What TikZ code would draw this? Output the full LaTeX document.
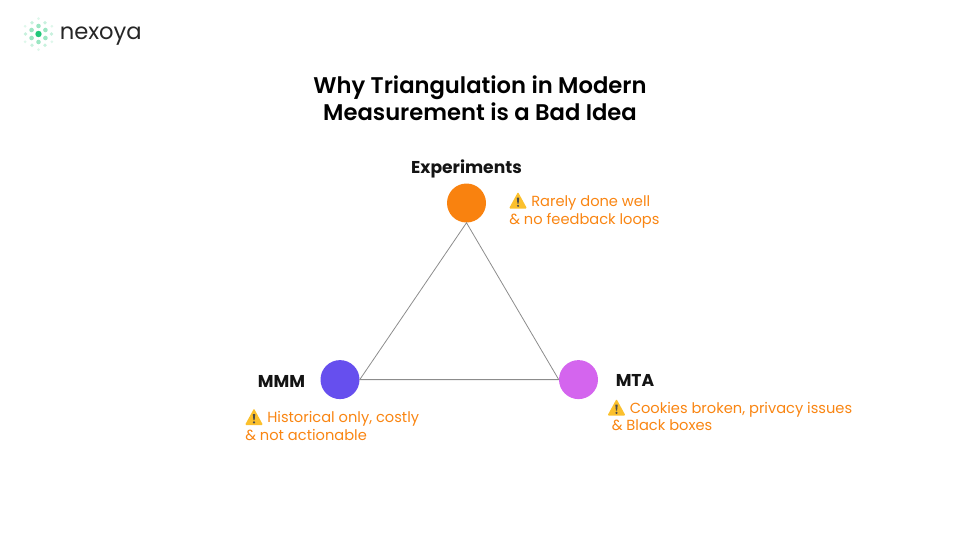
\documentclass[tikz,border=0pt]{standalone}
\usepackage{fontspec}
\setmainfont{Poppins}[BoldFont={Poppins SemiBold}]
\newfontfamily\labelfont{Poppins Bold}
\definecolor{noteorange}{HTML}{F98512}
\definecolor{expcolor}{HTML}{F9820F}
\definecolor{mmmcolor}{HTML}{664FEE}
\definecolor{mtacolor}{HTML}{D465EE}
\definecolor{edgegray}{HTML}{8C8C8C}
\definecolor{logogreen}{HTML}{22C77A}
\definecolor{warnamber}{HTML}{FBC02D}
\tikzset{
	vertexdot/.style = {circle, fill=#1, minimum size=29.25pt, inner sep=0pt},
	vertexlabel/.style = {font=\labelfont\fontsize{12.85pt}{15pt}\selectfont, text=black!92, inner sep=0pt},
	notetext/.style = {font=\fontsize{10.98pt}{13.1pt}\selectfont, text=noteorange, align=left, inner sep=0pt, anchor=north west},
	edge/.style = {draw=edgegray, line width=0.6pt},
	warnsign/.pic = {
		\fill[warnamber, rounded corners=0.8pt] (-9,7.5)--(0,-9)--(9,7.5)--cycle;
		\fill[black!70] (-1.2,-3.5)--(1.2,-3.5)--(0.6,2.5)--(-0.6,2.5)--cycle;
		\fill[black!70] (0,4.8) circle (1.2);
	}
}
\begin{document}
\begin{tikzpicture}[x=0.75pt, y=-0.75pt]
	\useasboundingbox (0,0) rectangle (960,540);
	% logo
	\foreach \ang in {0,60,...,300} {
		\fill[logogreen!45!white] (38.5,34)++(\ang+30:8) circle (2.3);
		\fill[logogreen!25!white] (38.5,34)++(\ang:13) circle (1.8);
		\fill[logogreen!15!white] (38.5,34)++(\ang+30:15.5) circle (1.5);
	}
	\fill[logogreen] (38.5,34) circle (3.2);
	\node[anchor=west, inner sep=0pt, text=black!85, font=\fontsize{17pt}{18pt}\selectfont] (logotext) at (59.5,36.5) {nexoya};
	% title
	\node[align=center, inner sep=0pt, font=\bfseries\fontsize{17pt}{20pt}\selectfont] (title) at (480,98.5) {Why Triangulation in Modern\\Measurement is a Bad Idea};
	% triangle
	\node[vertexdot=expcolor] (exp) at (466.5,203) {};
	\node[vertexdot=mmmcolor] (mmm) at (340,379.6) {};
	\node[vertexdot=mtacolor] (mta) at (578.5,379.6) {};
	\draw[edge] (exp.south)--(mmm.east)--(mta.west)--cycle;
	% labels
	\node[vertexlabel] (explabel) at (466.5,168.5) {Experiments};
	\node[vertexlabel] (mmmlabel) at (281.5,381) {MMM};
	\node[vertexlabel] (mtalabel) at (635,380.5) {MTA};
	% notes
	\node[notetext] (expnote) at (509,195.5) {\hspace{16.5pt}Rarely done well\\\& no feedback loops};
	\node[notetext] (mmmnote) at (245,411.5) {\hspace{16.5pt}Historical only, costly\\\& not actionable};
	\node[notetext] (mtanote) at (607.5,402) {\hspace{16.5pt}Cookies broken, privacy issues\\\hspace{3pt}\& Black boxes};
	\pic at (518,201) {warnsign};
	\pic at (254,417.5) {warnsign};
	\pic at (616.5,408) {warnsign};
\end{tikzpicture}
\end{document}
